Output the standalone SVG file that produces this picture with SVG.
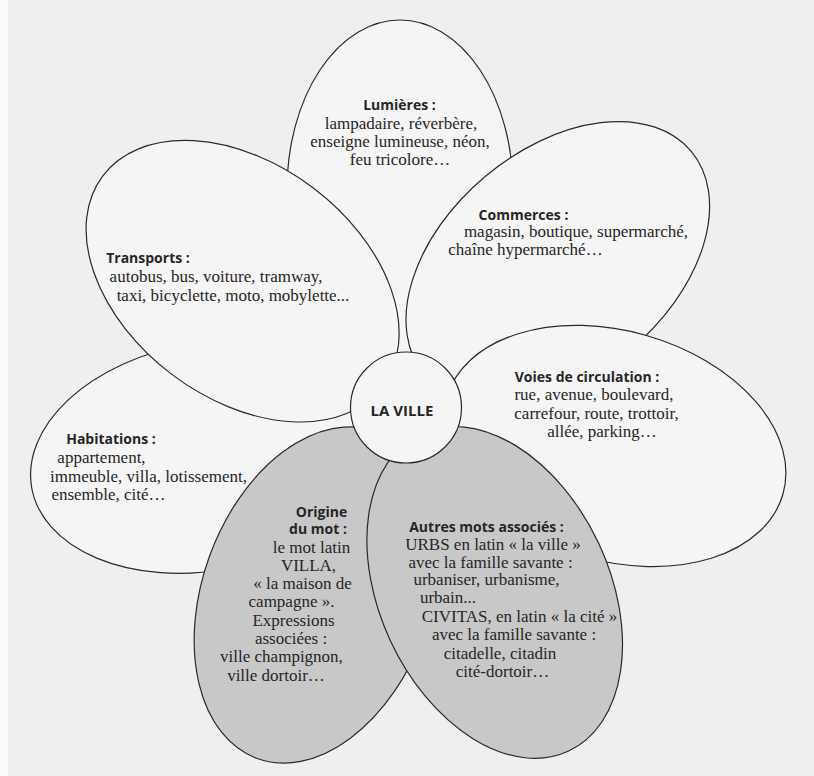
<svg xmlns="http://www.w3.org/2000/svg" width="814" height="776" viewBox="0 0 814 776">
<style>
.petal{fill:#f5f5f5;stroke:#2a2a2a;stroke-width:1.2}
.grey{fill:#c8c8c8;stroke:#2a2a2a;stroke-width:1.2}
.h{font-family:"Open Sans","Noto Sans",sans-serif;font-weight:bold;font-size:14px;fill:#262626;text-anchor:middle}
.t{font-family:"Liberation Serif","Times New Roman",serif;font-size:17px;fill:#262626;text-anchor:middle}
.c{font-family:"Open Sans","Noto Sans",sans-serif;font-weight:bold;font-size:15px;fill:#262626;text-anchor:middle}
</style>
<rect x="0" y="0" width="814" height="776" fill="#efefef"/>
<rect x="0" y="0" width="8" height="776" fill="#fbfbfb"/>
<g id="connectors"/>
<g id="lumieres">
<ellipse class="petal" cx="400" cy="190" rx="113" ry="170"/>
<text class="h" x="399.5" y="110">Lumières :</text>
<text class="t" x="401" y="129">lampadaire, réverbère,</text>
<text class="t" x="400" y="147">enseigne lumineuse, néon,</text>
<text class="t" x="400" y="165">feu tricolore…</text>
</g>
<g id="habitations">
<ellipse class="petal" cx="206" cy="457" rx="177" ry="114" transform="rotate(-10 206 457)"/>
<text class="h" x="111" y="443.5">Habitations :</text>
<text class="t" x="101.5" y="463">appartement,</text>
<text class="t" x="148.5" y="481.5">immeuble, villa, lotissement,</text>
<text class="t" x="108.5" y="500">ensemble, cité…</text>
</g>
<g id="transports">
<ellipse class="petal" cx="242.6" cy="281.2" rx="175" ry="117" transform="rotate(37 242.6 281.2)"/>
<text class="h" x="148" y="263">Transports :</text>
<text class="t" x="216" y="282">autobus, bus, voiture, tramway,</text>
<text class="t" x="233" y="300.5">taxi, bicyclette, moto, mobylette...</text>
</g>
<g id="commerces">
<ellipse class="petal" cx="557.8" cy="263" rx="174" ry="113" transform="rotate(-40 557.8 263)"/>
<text class="h" x="523.5" y="219.5">Commerces :</text>
<text class="t" x="576" y="237">magasin, boutique, supermarché,</text>
<text class="t" x="525.5" y="255">chaîne hypermarché…</text>
</g>
<g id="voies">
<ellipse class="petal" cx="614.7" cy="446" rx="175" ry="115" transform="rotate(16 614.7 446)"/>
<text class="h" x="587" y="382">Voies de circulation :</text>
<text class="t" x="594" y="400">rue, avenue, boulevard,</text>
<text class="t" x="596.5" y="418.5">carrefour, route, trottoir,</text>
<text class="t" x="602" y="436.5">allée, parking…</text>
</g>
<g id="origine">
<ellipse class="grey" cx="316.7" cy="595" rx="174" ry="114" transform="rotate(-70 316.7 595)"/>
<text class="h" x="321.5" y="516.5">Origine</text>
<text class="h" x="318" y="534">du mot :</text>
<text class="t" x="311.5" y="553">le mot latin</text>
<text class="t" x="308.5" y="571">VILLA,</text>
<text class="t" x="302.5" y="589">« la maison de</text>
<text class="t" x="291.5" y="607">campagne ».</text>
<text class="t" x="293.5" y="625.5">Expressions</text>
<text class="t" x="291" y="643.5">associées :</text>
<text class="t" x="281.5" y="662">ville champignon,</text>
<text class="t" x="276" y="680.5">ville dortoir…</text>
</g>
<g id="autres">
<ellipse class="grey" cx="494.7" cy="592.4" rx="175" ry="115" transform="rotate(65 494.7 592.4)"/>
<text class="h" x="486.5" y="532">Autres mots associés :</text>
<text class="t" x="493" y="550">URBS en latin « la ville »</text>
<text class="t" x="490.5" y="567.5">avec la famille savante :</text>
<text class="t" x="486.5" y="585">urbaniser, urbanisme,</text>
<text class="t" x="448" y="603">urbain...</text>
<text class="t" x="519.5" y="621.5">CIVITAS, en latin « la cité »</text>
<text class="t" x="514" y="640">avec la famille savante :</text>
<text class="t" x="500" y="659">citadelle, citadin</text>
<text class="t" x="502.5" y="677">cité-dortoir…</text>
</g>
<g id="la-ville">
<circle class="petal" cx="406" cy="407.5" r="55.5"/>
<text class="c" x="402" y="416">LA VILLE</text>
</g>
</svg>
